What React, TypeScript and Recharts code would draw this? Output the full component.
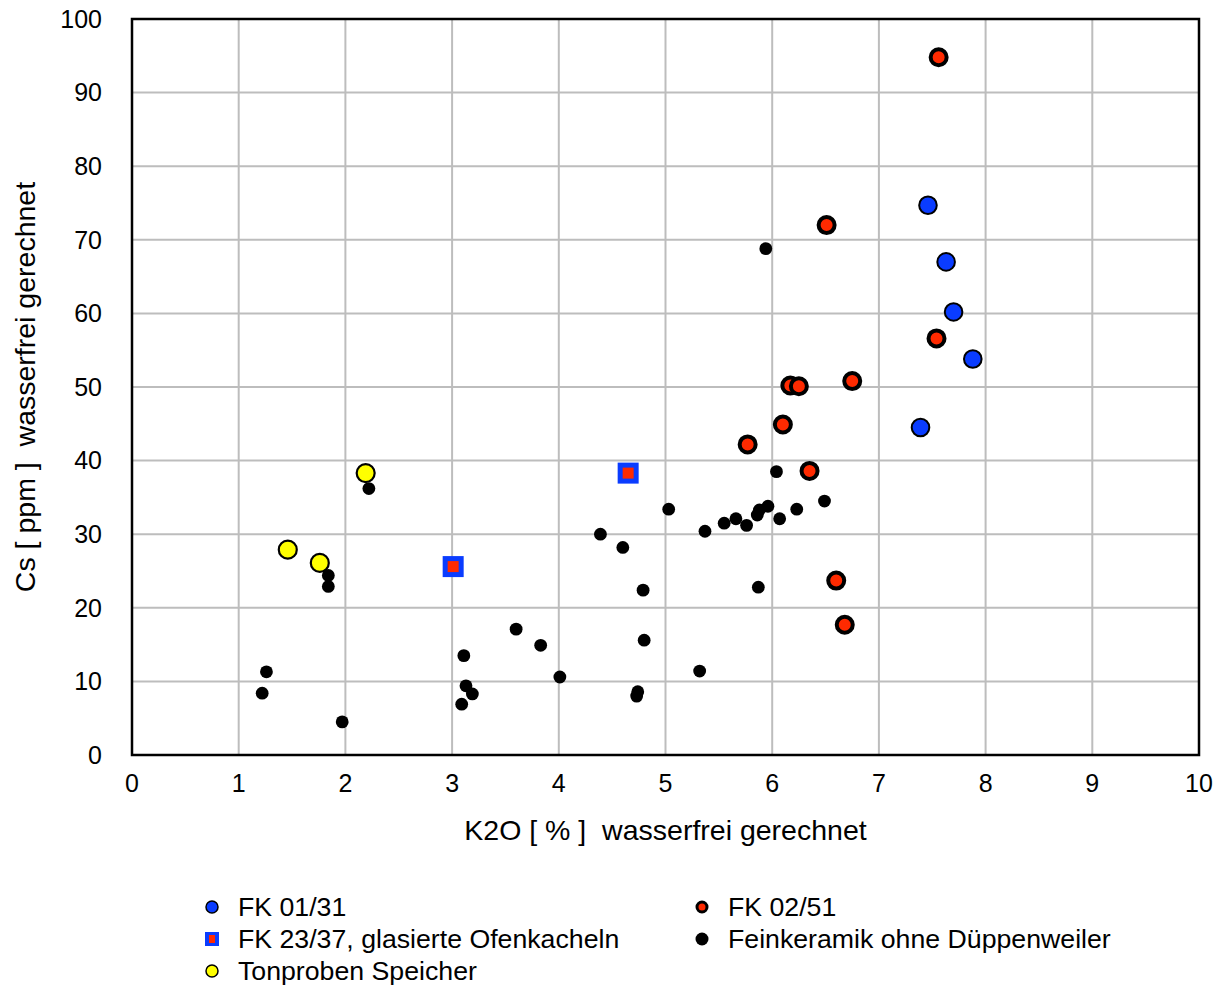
import {
  CartesianGrid,
  Label,
  ReferenceArea,
  Scatter,
  ScatterChart,
  XAxis,
  YAxis,
} from 'recharts';

type Pt = { k2o: number; cs: number };

const FK_01_31: Pt[] = [
  { k2o: 7.46, cs: 74.7 },
  { k2o: 7.63, cs: 67.0 },
  { k2o: 7.7, cs: 60.2 },
  { k2o: 7.88, cs: 53.8 },
  { k2o: 7.39, cs: 44.5 },
];

const FK_02_51: Pt[] = [
  { k2o: 7.56, cs: 94.8 },
  { k2o: 6.51, cs: 72.0 },
  { k2o: 7.54, cs: 56.6 },
  { k2o: 6.17, cs: 50.2 },
  { k2o: 6.25, cs: 50.1 },
  { k2o: 6.75, cs: 50.8 },
  { k2o: 6.1, cs: 44.9 },
  { k2o: 5.77, cs: 42.2 },
  { k2o: 6.35, cs: 38.6 },
  { k2o: 6.6, cs: 23.7 },
  { k2o: 6.68, cs: 17.7 },
];

const FK_23_37: Pt[] = [
  { k2o: 4.65, cs: 38.3 },
  { k2o: 3.01, cs: 25.6 },
];

const FEINKERAMIK: Pt[] = [
  { k2o: 5.94, cs: 68.8 },
  { k2o: 6.04, cs: 38.5 },
  { k2o: 6.49, cs: 34.5 },
  { k2o: 5.96, cs: 33.8 },
  { k2o: 5.88, cs: 33.3 },
  { k2o: 5.86, cs: 32.6 },
  { k2o: 5.66, cs: 32.1 },
  { k2o: 6.23, cs: 33.4 },
  { k2o: 6.07, cs: 32.1 },
  { k2o: 5.55, cs: 31.5 },
  { k2o: 5.76, cs: 31.2 },
  { k2o: 5.37, cs: 30.4 },
  { k2o: 5.03, cs: 33.4 },
  { k2o: 4.39, cs: 30.0 },
  { k2o: 4.6, cs: 28.2 },
  { k2o: 4.79, cs: 22.4 },
  { k2o: 5.87, cs: 22.8 },
  { k2o: 2.22, cs: 36.2 },
  { k2o: 1.84, cs: 24.4 },
  { k2o: 1.84, cs: 22.9 },
  { k2o: 1.26, cs: 11.3 },
  { k2o: 1.22, cs: 8.4 },
  { k2o: 1.97, cs: 4.5 },
  { k2o: 3.6, cs: 17.1 },
  { k2o: 3.83, cs: 14.9 },
  { k2o: 4.8, cs: 15.6 },
  { k2o: 3.11, cs: 13.5 },
  { k2o: 5.32, cs: 11.4 },
  { k2o: 4.01, cs: 10.6 },
  { k2o: 3.13, cs: 9.4 },
  { k2o: 3.19, cs: 8.3 },
  { k2o: 4.74, cs: 8.6 },
  { k2o: 4.73, cs: 8.0 },
  { k2o: 3.09, cs: 6.9 },
];

const TONPROBEN: Pt[] = [
  { k2o: 2.19, cs: 38.3 },
  { k2o: 1.46, cs: 27.9 },
  { k2o: 1.76, cs: 26.1 },
];

const X_TICKS = [0, 1, 2, 3, 4, 5, 6, 7, 8, 9, 10];
const Y_TICKS = [0, 10, 20, 30, 40, 50, 60, 70, 80, 90, 100];

const BLUE = '#0a3cff';
const RED = '#ff2a00';
const YELLOW = '#ffff00';
const FONT = '"Liberation Sans", Arial, Helvetica, sans-serif';

const blueDot = (p: any) => (
  <circle cx={p.cx} cy={p.cy} r={8.8} fill={BLUE} stroke="#000" strokeWidth={2} />
);
const redDot = (p: any) => (
  <circle cx={p.cx} cy={p.cy} r={8} fill={RED} stroke="#000" strokeWidth={4} />
);
const squareDot = (p: any) => (
  <g>
    <rect x={p.cx - 10.5} y={p.cy - 10.5} width={21} height={21} fill={BLUE} />
    <rect x={p.cx - 5.5} y={p.cy - 5.5} width={11} height={11} fill={RED} />
  </g>
);
const blackDot = (p: any) => <circle cx={p.cx} cy={p.cy} r={6.4} fill="#000" />;
const yellowDot = (p: any) => (
  <circle cx={p.cx} cy={p.cy} r={9} fill={YELLOW} stroke="#000" strokeWidth={2.2} />
);

function LegendMark({ kind }: { kind: string }) {
  return (
    <svg width={18} height={18} style={{ display: 'block' }}>
      {kind === 'blue' && <circle cx={9} cy={9} r={6} fill={BLUE} stroke="#000" strokeWidth={1.5} />}
      {kind === 'red' && <circle cx={9} cy={9} r={5} fill={RED} stroke="#000" strokeWidth={3} />}
      {kind === 'square' && (
        <g>
          <rect x={2} y={2} width={14} height={14} fill={BLUE} />
          <rect x={6} y={5} width={6} height={8} fill={RED} />
        </g>
      )}
      {kind === 'black' && <circle cx={9} cy={9} r={6.5} fill="#000" />}
      {kind === 'yellow' && <circle cx={9} cy={9} r={6} fill={YELLOW} stroke="#000" strokeWidth={1.5} />}
    </svg>
  );
}

const LEGEND = [
  { kind: 'blue', text: 'FK 01/31', left: 203, top: 907 },
  { kind: 'red', text: 'FK 02/51', left: 693, top: 907 },
  { kind: 'square', text: 'FK 23/37, glasierte Ofenkacheln', left: 203, top: 939 },
  { kind: 'black', text: 'Feinkeramik ohne Düppenweiler', left: 693, top: 939 },
  { kind: 'yellow', text: 'Tonproben Speicher', left: 203, top: 971 },
];

export default function App() {
  return (
    <div style={{ position: 'absolute', left: 0, top: 0, width: 1226, height: 985, background: '#fff', fontFamily: FONT }}>
      <ScatterChart width={1226} height={985} margin={{ top: 19, right: 27, left: 0, bottom: 0 }}>
        <CartesianGrid stroke="#bdbdbd" strokeWidth={2} />
        <XAxis
          type="number"
          dataKey="k2o"
          domain={[0, 10]}
          ticks={X_TICKS}
          interval={0}
          height={230}
          axisLine={false}
          tickLine={false}
          tickSize={0}
          tickMargin={19}
          tick={{ fontSize: 25, fill: '#000', fontFamily: FONT }}
        >
          <Label
            content={(props: any) => {
              const vb = props.viewBox;
              return (
                <text
                  x={vb.x + vb.width / 2}
                  y={840}
                  textAnchor="middle"
                  fontSize={28.5}
                  fontFamily={FONT}
                  fill="#000"
                  style={{ whiteSpace: 'pre' }}
                >
                  {'K2O [ % ]  wasserfrei gerechnet'}
                </text>
              );
            }}
          />
        </XAxis>
        <YAxis
          type="number"
          dataKey="cs"
          domain={[0, 100]}
          ticks={Y_TICKS}
          interval={0}
          width={132}
          axisLine={false}
          tickLine={false}
          tickSize={0}
          tickMargin={30}
          tick={{ fontSize: 25, fill: '#000', fontFamily: FONT }}
        >
          <Label
            content={(props: any) => {
              const vb = props.viewBox;
              const cy = vb.y + vb.height / 2;
              return (
                <text
                  x={25}
                  y={cy}
                  transform={`rotate(-90 25 ${cy})`}
                  textAnchor="middle"
                  dominantBaseline="central"
                  fontSize={28.5}
                  fontFamily={FONT}
                  fill="#000"
                  style={{ whiteSpace: 'pre' }}
                >
                  {'Cs [ ppm ]  wasserfrei gerechnet'}
                </text>
              );
            }}
          />
        </YAxis>
        <ReferenceArea x1={0} x2={10} y1={0} y2={100} fill="none" stroke="#000" strokeWidth={2.5} ifOverflow="visible" />
        <Scatter name="FK 01/31" data={FK_01_31} shape={blueDot} isAnimationActive={false} />
        <Scatter name="FK 02/51" data={FK_02_51} shape={redDot} isAnimationActive={false} />
        <Scatter name="FK 23/37, glasierte Ofenkacheln" data={FK_23_37} shape={squareDot} isAnimationActive={false} />
        <Scatter name="Tonproben Speicher" data={TONPROBEN} shape={yellowDot} isAnimationActive={false} />
        <Scatter name="Feinkeramik ohne Düppenweiler" data={FEINKERAMIK} shape={blackDot} isAnimationActive={false} />
      </ScatterChart>
      {LEGEND.map((l) => (
        <div
          key={l.text}
          style={{
            position: 'absolute',
            left: l.left,
            top: l.top - 16,
            height: 32,
            display: 'flex',
            alignItems: 'center',
            gap: 17,
            fontSize: 26.7,
            color: '#000',
            whiteSpace: 'nowrap',
          }}
        >
          <LegendMark kind={l.kind} />
          <span>{l.text}</span>
        </div>
      ))}
    </div>
  );
}
